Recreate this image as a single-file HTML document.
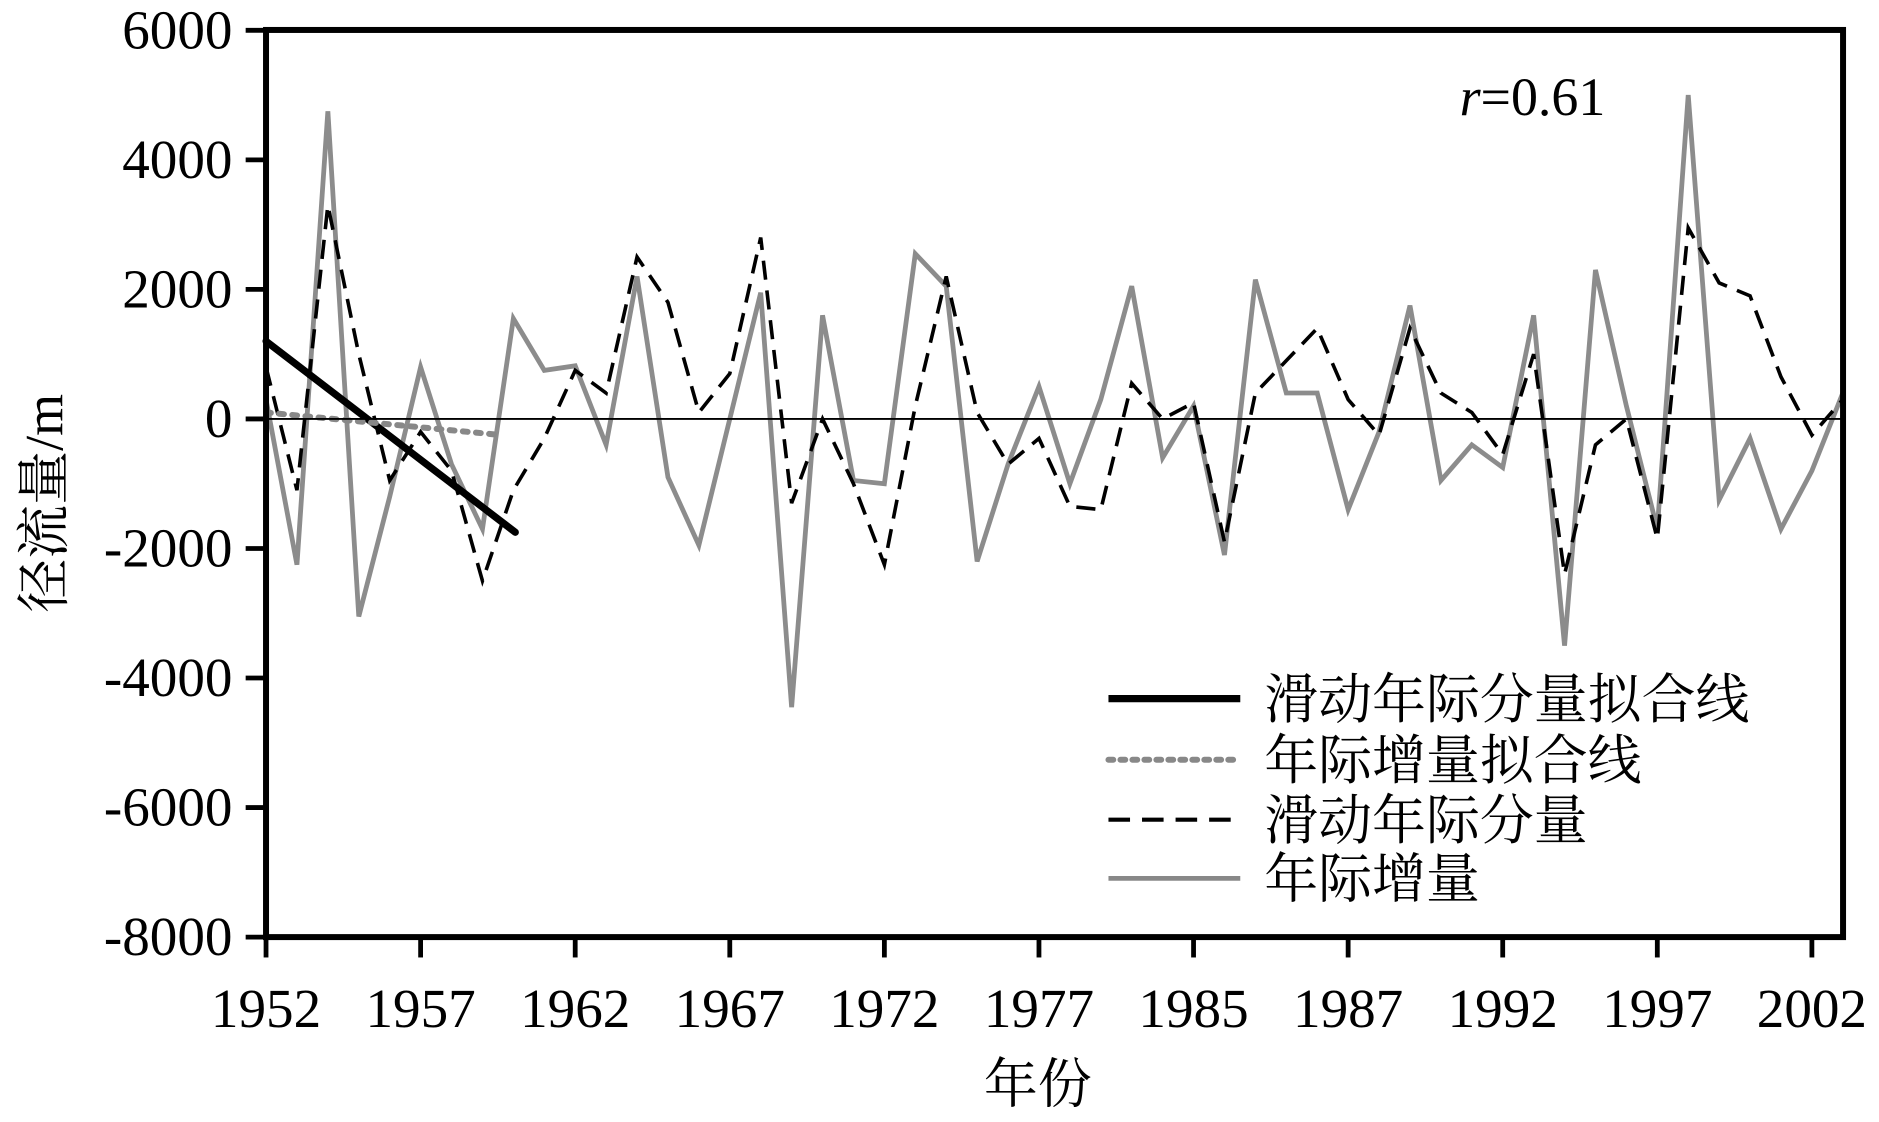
<!DOCTYPE html>
<html><head><meta charset="utf-8"><style>
html,body{margin:0;padding:0;background:#fff;}
svg{display:block;}
.n{font-family:"Liberation Serif","Times New Roman",serif;fill:#000;}
.c{font-family:"Liberation Serif","Noto Serif CJK SC","Noto Sans CJK SC",serif;fill:#000;}
</style></head><body>
<svg id="s" width="1879" height="1122" viewBox="0 0 1568 936.3" preserveAspectRatio="none" xmlns="http://www.w3.org/2000/svg">
<rect x="0" y="0" width="1568" height="936.3" fill="#fff"/>
<g id="plot"></g>
<line x1="222" y1="349.6" x2="1538" y2="349.6" stroke="#000" stroke-width="1.5"/>
<rect x="222" y="25" width="1316" height="757" fill="none" stroke="#000" stroke-width="5"/>
<g id="ticks"></g>
<text class="n" x="1218" y="96" font-size="45" font-family="Liberation Serif, serif"><tspan font-style="italic">r</tspan>=0.61</text>
<text class="c" transform="translate(52,420) rotate(-90)" font-size="45" text-anchor="middle">径流量/m</text>
<text class="c" x="866" y="920" font-size="45" text-anchor="middle">年份</text>
<g>
<line x1="925" y1="583" x2="1035" y2="583" stroke="#000" stroke-width="6"/>
<line x1="925" y1="634" x2="1035" y2="634" stroke="#888" stroke-width="5" stroke-dasharray="4,6" stroke-linecap="round"/>
<line x1="925" y1="684" x2="1035" y2="684" stroke="#000" stroke-width="3.5" stroke-dasharray="18,10"/>
<line x1="925" y1="733" x2="1035" y2="733" stroke="#888" stroke-width="4"/>
<text class="c" x="1055" y="599" font-size="45">滑动年际分量拟合线</text>
<text class="c" x="1055" y="650" font-size="45">年际增量拟合线</text>
<text class="c" x="1055" y="700" font-size="45">滑动年际分量</text>
<text class="c" x="1055" y="749" font-size="45">年际增量</text>
</g>
</svg>
<script>
var NS="http://www.w3.org/2000/svg";
function Y(v){return 349.6-v*0.05405;}
function X(i){return 222+25.8*i;}
var gray=[300,-2250,4750,-3050,-1200,800,-700,-1700,1550,750,820,-400,2200,-900,-1950,0,1950,-4450,1600,-950,-1000,2550,2050,-2200,-700,500,-1000,300,2050,-600,200,-2100,2150,400,400,-1400,-200,1750,-950,-400,-750,1600,-3500,2300,200,-1700,5000,-1250,-300,-1700,-800,400];
var dash=[800,-1100,3300,1000,-950,-200,-800,-2500,-1100,-300,750,400,2500,1800,100,700,2800,-1300,0,-1000,-2250,200,2200,100,-700,-300,-1350,-1400,550,0,250,-1900,400,900,1400,300,-250,1400,400,100,-550,1000,-2400,-400,0,-1850,2950,2100,1900,650,-250,300];
function pl(d,attrs){var p=document.createElementNS(NS,"polyline");p.setAttribute("points",d.map(function(v,i){return X(i)+","+Y(v);}).join(" "));p.setAttribute("fill","none");for(var k in attrs)p.setAttribute(k,attrs[k]);document.getElementById("plot").appendChild(p);}
function ln(x1,y1,x2,y2,attrs,g){var l=document.createElementNS(NS,"line");l.setAttribute("x1",x1);l.setAttribute("y1",y1);l.setAttribute("x2",x2);l.setAttribute("y2",y2);for(var k in attrs)l.setAttribute(k,attrs[k]);document.getElementById(g).appendChild(l);}
pl(gray,{stroke:"#8c8c8c","stroke-width":4,"stroke-linejoin":"miter"});
pl(dash,{stroke:"#000","stroke-width":3,"stroke-dasharray":"16,9"});
ln(222,Y(1200),430,Y(-1750),{stroke:"#000","stroke-width":6,"stroke-linecap":"round"},"plot");
ln(222,Y(100),419,Y(-250),{stroke:"#888","stroke-width":5,"stroke-dasharray":"4,7","stroke-linecap":"round"},"plot");
var tg=document.getElementById("ticks");
for(var v=6000;v>=-8000;v-=2000){ln(205,Y(v),222,Y(v),{stroke:"#000","stroke-width":4},"ticks");var t=document.createElementNS(NS,"text");t.setAttribute("class","n");t.setAttribute("x",194);t.setAttribute("y",Y(v)+15);t.setAttribute("font-size","46");t.setAttribute("text-anchor","end");t.textContent=String(v);tg.appendChild(t);}
var yl=["1952","1957","1962","1967","1972","1977","1985","1987","1992","1997","2002"];
for(var i=0;i<yl.length;i++){var x=222+129*i;ln(x,782,x,799,{stroke:"#000","stroke-width":4},"ticks");var t=document.createElementNS(NS,"text");t.setAttribute("class","n");t.setAttribute("x",x);t.setAttribute("y",857);t.setAttribute("font-size","46");t.setAttribute("text-anchor","middle");t.textContent=yl[i];tg.appendChild(t);}
</script>
</body></html>
